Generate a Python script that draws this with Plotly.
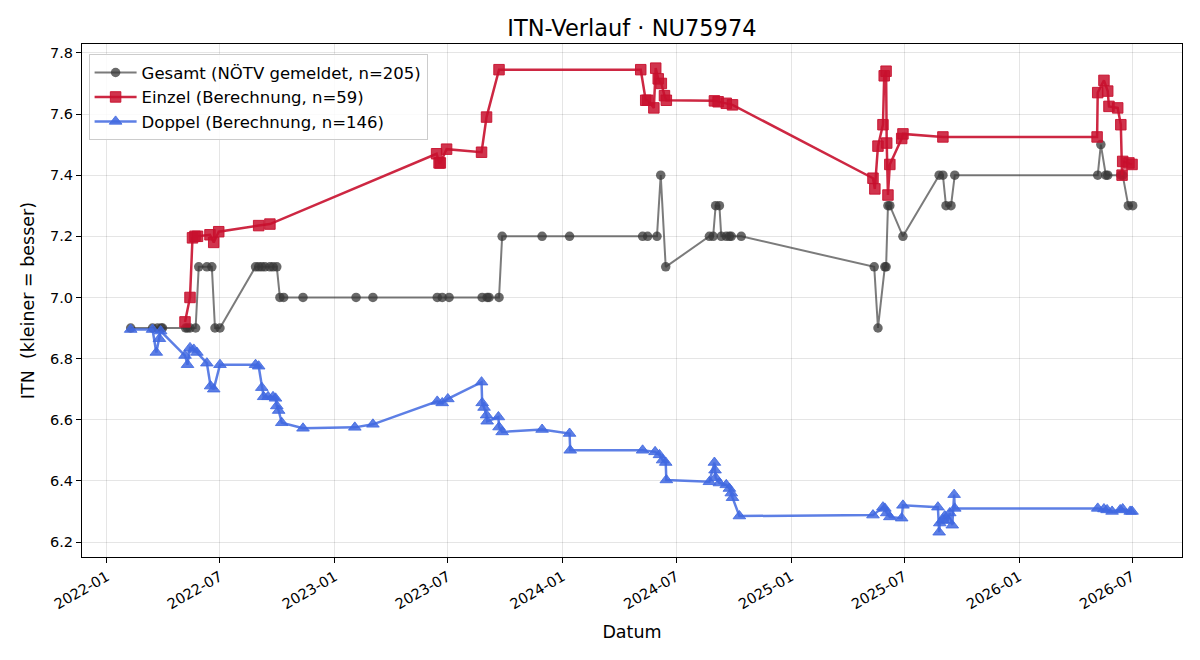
import plotly.graph_objects as go

# ---------------- data ----------------
gesamt_dates = [
    "2022-02-08", "2022-03-15", "2022-03-23", "2022-03-29", "2022-03-31",
    "2022-05-07", "2022-05-10", "2022-05-14", "2022-05-23", "2022-05-28",
    "2022-06-10", "2022-06-18", "2022-06-23", "2022-07-01", "2022-08-27",
    "2022-09-01", "2022-09-06", "2022-09-11", "2022-09-19", "2022-09-24",
    "2022-09-30", "2022-10-05", "2022-10-11", "2022-11-11", "2023-02-04",
    "2023-03-03", "2023-06-14", "2023-06-22", "2023-07-03", "2023-08-25",
    "2023-09-02", "2023-09-05", "2023-09-21", "2023-09-26", "2023-11-29",
    "2024-01-12", "2024-05-08", "2024-05-16", "2024-05-31", "2024-06-06",
    "2024-06-14", "2024-08-23", "2024-08-29", "2024-09-02", "2024-09-08",
    "2024-09-11", "2024-09-19", "2024-09-24", "2024-09-27", "2024-10-13",
    "2025-05-14", "2025-05-20", "2025-05-31", "2025-06-02", "2025-06-05",
    "2025-06-08", "2025-06-29", "2025-08-26", "2025-09-01", "2025-09-06",
    "2025-09-14", "2025-09-20", "2026-05-07", "2026-05-12", "2026-05-20",
    "2026-05-23", "2026-06-13", "2026-06-16", "2026-06-25", "2026-07-02",
]
gesamt_itn = [
    6.90, 6.90, 6.90, 6.90, 6.90,
    6.90, 6.90, 6.90, 6.90, 7.10,
    7.10, 7.10, 6.90, 6.90, 7.10,
    7.10, 7.10, 7.10, 7.10, 7.10,
    7.10, 7.00, 7.00, 7.00, 7.00,
    7.00, 7.00, 7.00, 7.00, 7.00,
    7.00, 7.00, 7.00, 7.20, 7.20,
    7.20, 7.20, 7.20, 7.20, 7.40,
    7.10, 7.20, 7.20, 7.30, 7.30,
    7.20, 7.20, 7.20, 7.20, 7.20,
    7.10, 6.90, 7.10, 7.10, 7.30,
    7.30, 7.20, 7.40, 7.40, 7.30,
    7.30, 7.40, 7.40, 7.50, 7.40,
    7.40, 7.40, 7.40, 7.30, 7.30,
]

einzel_dates = [
    "2022-05-06", "2022-05-14", "2022-05-18", "2022-05-22", "2022-05-26",
    "2022-06-15", "2022-06-21", "2022-06-29", "2022-09-01", "2022-09-19",
    "2023-06-13", "2023-06-17", "2023-06-19", "2023-06-29", "2023-08-24",
    "2023-09-01", "2023-09-21", "2024-05-05", "2024-05-13", "2024-05-16",
    "2024-05-26", "2024-05-29", "2024-06-02", "2024-06-07", "2024-06-12",
    "2024-06-15", "2024-08-31", "2024-09-06", "2024-09-19", "2024-09-29",
    "2025-05-12", "2025-05-15", "2025-05-20", "2025-05-28", "2025-05-30",
    "2025-06-02", "2025-06-03", "2025-06-05", "2025-06-08", "2025-06-27",
    "2025-06-29", "2025-09-01", "2026-05-06", "2026-05-07", "2026-05-17",
    "2026-05-23", "2026-05-25", "2026-06-08", "2026-06-13", "2026-06-15",
    "2026-06-16", "2026-06-26", "2026-07-01",
]
einzel_itn = [
    6.92, 7.00, 7.195, 7.20, 7.20,
    7.205, 7.18, 7.215, 7.235, 7.24,
    7.47, 7.44, 7.44, 7.485, 7.475,
    7.59, 7.745, 7.745, 7.645, 7.645,
    7.62, 7.75, 7.715, 7.70, 7.66,
    7.645, 7.643, 7.64, 7.635, 7.63,
    7.39, 7.355, 7.495, 7.565, 7.725,
    7.74, 7.505, 7.335, 7.435, 7.52,
    7.535, 7.525, 7.525, 7.67, 7.71,
    7.675, 7.625, 7.62, 7.565, 7.40,
    7.445, 7.44, 7.435,
]

doppel_dates = [
    "2022-02-08", "2022-03-15", "2022-03-21", "2022-03-26", "2022-03-28",
    "2022-05-06", "2022-05-10", "2022-05-14", "2022-05-20", "2022-05-25",
    "2022-06-10", "2022-06-16", "2022-06-21", "2022-07-01", "2022-08-27",
    "2022-09-01", "2022-09-06", "2022-09-09", "2022-09-16", "2022-09-24",
    "2022-09-28", "2022-09-30", "2022-10-03", "2022-10-08", "2022-11-11",
    "2023-02-02", "2023-03-03", "2023-06-14", "2023-06-22", "2023-07-01",
    "2023-08-24", "2023-08-25", "2023-08-28", "2023-09-01", "2023-09-02",
    "2023-09-20", "2023-09-21", "2023-09-26", "2023-11-29", "2024-01-12",
    "2024-01-13", "2024-05-08", "2024-05-28", "2024-06-04", "2024-06-09",
    "2024-06-14", "2024-06-15", "2024-08-23", "2024-08-31", "2024-09-01",
    "2024-09-02", "2024-09-08", "2024-09-19", "2024-09-24", "2024-09-27",
    "2024-09-29", "2024-10-10", "2025-05-12", "2025-05-28", "2025-05-31",
    "2025-06-03", "2025-06-08", "2025-06-27", "2025-06-29", "2025-08-24",
    "2025-08-26", "2025-08-27", "2025-09-01", "2025-09-04", "2025-09-09",
    "2025-09-12", "2025-09-16", "2025-09-19", "2025-09-20", "2026-05-07",
    "2026-05-17", "2026-05-22", "2026-05-30", "2026-06-12", "2026-06-16",
    "2026-06-28", "2026-07-01",
]
doppel_itn = [
    6.895, 6.895, 6.82, 6.865, 6.89,
    6.81, 6.78, 6.835, 6.83, 6.82,
    6.785, 6.71, 6.70, 6.78, 6.78,
    6.775, 6.705, 6.675, 6.675, 6.675,
    6.67, 6.645, 6.63, 6.59, 6.572,
    6.575, 6.585, 6.66, 6.655, 6.668,
    6.723, 6.655, 6.64, 6.615, 6.595,
    6.609, 6.576, 6.56, 6.568, 6.555,
    6.50, 6.50, 6.495, 6.485, 6.468,
    6.46, 6.403, 6.397, 6.46, 6.435,
    6.41, 6.393, 6.387, 6.375, 6.36,
    6.345, 6.285, 6.288, 6.314, 6.31,
    6.295, 6.282, 6.278, 6.32, 6.314,
    6.232, 6.262, 6.272, 6.285, 6.27,
    6.295, 6.255, 6.355, 6.31, 6.31,
    6.308, 6.305, 6.30, 6.305, 6.308,
    6.30, 6.30,
]

series_names = [
    "Gesamt (NÖTV gemeldet, n=205)",
    "Einzel (Berechnung, n=59)",
    "Doppel (Berechnung, n=146)",
]

# ---------------- figure ----------------
fig = go.Figure()

fig.add_trace(go.Scatter(
    x=gesamt_dates, y=gesamt_itn, mode="lines+markers", name=series_names[0],
    line=dict(color="rgba(60,60,60,0.68)", width=2),
    marker=dict(symbol="circle", size=9.5, color="rgba(55,55,55,0.75)",
                line=dict(width=0)),
))
fig.add_trace(go.Scatter(
    x=einzel_dates, y=einzel_itn, mode="lines+markers", name=series_names[1],
    line=dict(color="rgba(200,16,46,0.9)", width=2.5),
    marker=dict(symbol="square", size=10.5, color="rgba(200,16,46,0.85)",
                line=dict(width=1, color="rgba(200,16,46,0.9)")),
))
fig.add_trace(go.Scatter(
    x=doppel_dates, y=doppel_itn, mode="lines+markers", name=series_names[2],
    line=dict(color="rgba(65,105,225,0.85)", width=2.5),
    marker=dict(symbol="triangle-up", size=11, color="rgba(65,105,225,0.85)",
                line=dict(width=1, color="rgba(65,105,225,0.85)")),
))

axis_common = dict(
    showline=True, linecolor="black", linewidth=1, mirror=True,
    ticks="outside", ticklen=5, tickcolor="black",
    showgrid=True, gridcolor="rgba(0,0,0,0.1)", gridwidth=1,
    zeroline=False, tickfont=dict(size=14.5, color="black"),
)

fig.update_layout(
    width=1200, height=660,
    margin=dict(l=82, r=18, t=44, b=103),
    paper_bgcolor="white", plot_bgcolor="white",
    font=dict(family="DejaVu Sans", size=14, color="black"),
    title=dict(text="ITN-Verlauf · NU75974", x=0.5266, xanchor="center",
               y=0.958, yanchor="middle", font=dict(size=22.5)),
    legend=dict(x=0.006, y=0.98, xanchor="left", yanchor="top",
                bgcolor="rgba(255,255,255,0.85)", bordercolor="#cccccc",
                borderwidth=1, font=dict(size=16.5), tracegroupgap=0,
                itemwidth=42),
    xaxis=dict(
        axis_common,
        type="date", range=["2021-11-22", "2026-09-19"],
        tick0="2022-01-01", dtick="M6", tickformat="%Y-%m", tickangle=-30,
        title=dict(text="Datum", font=dict(size=17.5), standoff=14),
    ),
    yaxis=dict(
        axis_common,
        range=[6.151, 7.829], tick0=6.2, dtick=0.2, tickformat=".1f",
        title=dict(text="ITN  (kleiner = besser)", font=dict(size=17.5), standoff=10),
    ),
)

fig.write_html("out.html")
